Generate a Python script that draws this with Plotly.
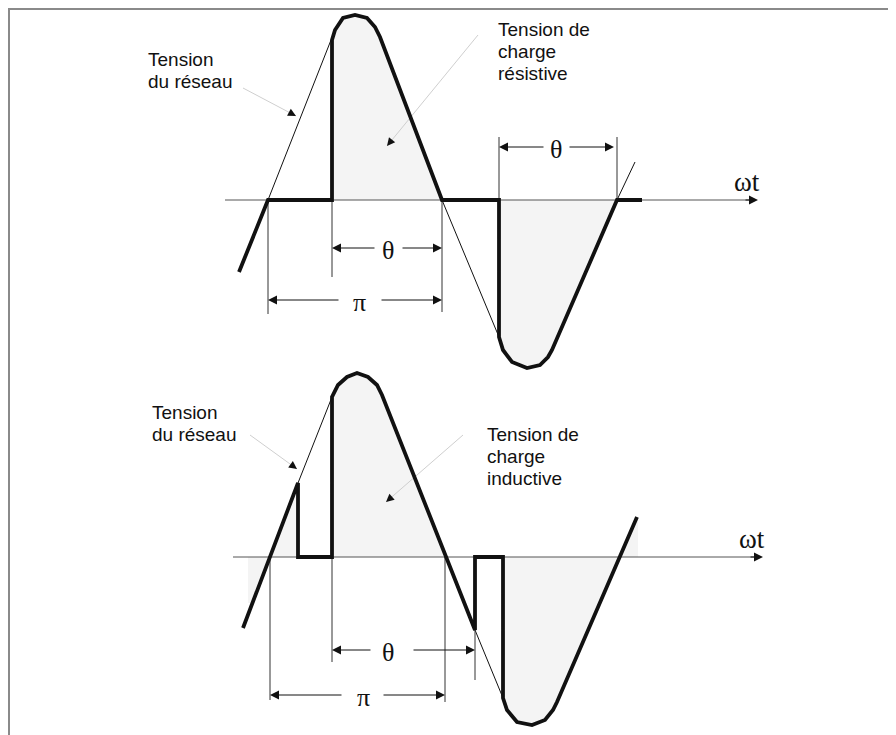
import plotly.graph_objects as go

W, H = 896, 735
# the page body has an 8px margin: shift the ranges so that
# diagram units equal window pixels
OFF = 8
INK = "#111111"
THIN = "#333333"
FILL = "#f4f4f4"
LEADER = "#cfcfcf"
SANS = "Liberation Sans, Arial, Helvetica, sans-serif"
SERIF = "Liberation Serif, Times New Roman, serif"

# ---- top panel : charge résistive (diagram units = pixels) ----
TOP_AXIS = [225, 758, 200]
TOP_LOAD_X = [239, 268, 332, 332, 335, 343, 355, 367, 375, 380, 442,
              499, 499, 503, 512, 527, 540, 548, 552, 617, 642]
TOP_LOAD_Y = [272, 200, 200, 40, 30, 18, 15, 18, 27, 37, 200,
              200, 337, 350, 362, 368, 365, 357, 350, 200, 200]
TOP_LINE_X = [[268, 331], [442, 499], [617, 635]]
TOP_LINE_Y = [[200, 40], [200, 337], [200, 162]]

# ---- bottom panel : charge inductive ----
LOW_AXIS = [233, 763, 557]
LOW_LOAD_X = [243, 298, 298, 332, 332, 338, 347, 357, 368, 377, 382,
              475, 475, 503, 503, 507, 517, 532, 545, 553, 557, 637]
LOW_LOAD_Y = [628, 483, 557, 557, 397, 385, 377, 373, 377, 385, 395,
              630, 557, 557, 698, 710, 722, 725, 720, 710, 702, 517]
LOW_ZERO_X = [268, 445, 620]
LOW_LINE_X = [[298, 332], [475, 503]]
LOW_LINE_Y = [[483, 397], [630, 698]]

# dimension rows: y, left tip, right tip, label x, gap start, gap end, label
DIM_Y = [248, 300, 147, 650, 695]
DIM_X0 = [332, 268, 499, 332, 270]
DIM_X1 = [442, 442, 614, 475, 445]
DIM_LX = [388, 359, 556, 388, 363]
DIM_G0 = [376, 340, 545, 372, 343]
DIM_G1 = [401, 380, 568, 412, 382]
DIM_TXT = ["θ", "π", "θ", "θ", "π"]

# extension lines: x, y0, y1
EXT_X = [268, 332, 442, 499, 617, 270, 332, 445, 475]
EXT_Y0 = [200, 200, 200, 137, 137, 557, 557, 557, 630]
EXT_Y1 = [314, 277, 312, 200, 200, 700, 662, 702, 680]

# labels: text, x, y
LABELS = ["Tension", "du réseau",
          "Tension de", "charge", "résistive",
          "Tension", "du réseau",
          "Tension de", "charge", "inductive"]
LABEL_X = [147, 147, 497, 497, 497, 151, 151, 486, 486, 486]
LABEL_Y = [59, 81, 29, 51, 73, 412, 434, 434, 456, 478]

# leaders: start, arrow tip
LEAD_X0 = [243, 478, 250, 463]
LEAD_Y0 = [88, 35, 435, 435]
LEAD_X1 = [296, 387, 297, 386]
LEAD_Y1 = [116, 146, 469, 502]


def poly(xs, ys):
    return go.Scatter(x=xs, y=ys, mode="lines", fill="toself",
                      fillcolor=FILL, line=dict(width=0),
                      hoverinfo="skip")


fig = go.Figure()

# grey fills
fig.add_trace(poly(TOP_LOAD_X[2:11], TOP_LOAD_Y[2:11]))
fig.add_trace(poly(TOP_LOAD_X[11:20], TOP_LOAD_Y[11:20]))

b0 = LOW_AXIS[2]
fig.add_trace(poly([LOW_ZERO_X[0], LOW_LOAD_X[1], LOW_LOAD_X[2]],
                   [b0, LOW_LOAD_Y[1], LOW_LOAD_Y[2]]))
fig.add_trace(poly([248, LOW_ZERO_X[0], 252, 248], [b0, b0, 603, 603]))
fig.add_trace(poly(LOW_LOAD_X[3:11] + [LOW_ZERO_X[1]],
                   LOW_LOAD_Y[3:11] + [b0]))
fig.add_trace(poly(LOW_LOAD_X[13:21] + [LOW_ZERO_X[2]],
                   LOW_LOAD_Y[13:21] + [b0]))
fig.add_trace(poly([LOW_ZERO_X[2], LOW_LOAD_X[21], LOW_LOAD_X[21] + 1,
                    LOW_LOAD_X[21] + 1],
                   [b0, LOW_LOAD_Y[21], LOW_LOAD_Y[21], b0]))

# axes lines
for ax in (TOP_AXIS, LOW_AXIS):
    fig.add_trace(go.Scatter(x=[ax[0], ax[1] - 8], y=[ax[2], ax[2]],
                             mode="lines", line=dict(color="#555555", width=1),
                             hoverinfo="skip"))

# network voltage (thin)
for xs, ys in zip(TOP_LINE_X + LOW_LINE_X, TOP_LINE_Y + LOW_LINE_Y):
    fig.add_trace(go.Scatter(x=xs, y=ys, mode="lines",
                             line=dict(color=INK, width=1),
                             hoverinfo="skip"))

# extension lines
for x, y0, y1 in zip(EXT_X, EXT_Y0, EXT_Y1):
    fig.add_trace(go.Scatter(x=[x, x], y=[y0, y1], mode="lines",
                             line=dict(color=THIN, width=1),
                             hoverinfo="skip"))

# leader lines
for x0, y0, x1, y1 in zip(LEAD_X0, LEAD_Y0, LEAD_X1, LEAD_Y1):
    fig.add_trace(go.Scatter(x=[x0, x1], y=[y0, y1], mode="lines",
                             line=dict(color=LEADER, width=1),
                             hoverinfo="skip"))

# load voltage (bold)
fig.add_trace(go.Scatter(x=TOP_LOAD_X, y=TOP_LOAD_Y, mode="lines",
                         line=dict(color=INK, width=3.8),
                         hoverinfo="skip"))
fig.add_trace(go.Scatter(x=LOW_LOAD_X, y=LOW_LOAD_Y, mode="lines",
                         line=dict(color=INK, width=3.8),
                         hoverinfo="skip"))

ann = []

# axis arrowheads and ωt
for ax in (TOP_AXIS, LOW_AXIS):
    ann.append(dict(x=ax[1], y=ax[2], ax=ax[1] - 14, ay=ax[2],
                    xref="x", yref="y", axref="x", ayref="y", text="",
                    showarrow=True, arrowhead=2, arrowsize=1.8,
                    arrowwidth=1, arrowcolor=INK, standoff=0))
    ann.append(dict(x=ax[1] - 11, y=ax[2] - 18, xref="x", yref="y",
                    text="ωt", showarrow=False, xanchor="center",
                    yanchor="middle",
                    font=dict(family=SERIF, size=27, color=INK)))

# dimension arrows
for y, x0, x1, lx, g0, g1, t in zip(DIM_Y, DIM_X0, DIM_X1, DIM_LX,
                                    DIM_G0, DIM_G1, DIM_TXT):
    for tip, tail in ((x0, g0), (x1, g1)):
        ann.append(dict(x=tip, y=y, ax=tail, ay=y, xref="x", yref="y",
                        axref="x", ayref="y", text="", showarrow=True,
                        arrowhead=2, arrowsize=1.8, arrowwidth=1,
                        arrowcolor=INK, standoff=0))
    ann.append(dict(x=lx, y=y + 2, xref="x", yref="y", text=t,
                    showarrow=False, xanchor="center", yanchor="middle",
                    font=dict(family=SERIF, size=26, color=INK)))

# leader arrowheads
for x0, y0, x1, y1 in zip(LEAD_X0, LEAD_Y0, LEAD_X1, LEAD_Y1):
    dx, dy = x1 - x0, y1 - y0
    n = (dx * dx + dy * dy) ** 0.5
    ann.append(dict(x=x1, y=y1, ax=-dx / n * 9, ay=-dy / n * 9,
                    xref="x", yref="y", text="", showarrow=True,
                    arrowhead=2, arrowsize=1.6, arrowwidth=1,
                    arrowcolor=INK, standoff=0))

# labels
for t, x, y in zip(LABELS, LABEL_X, LABEL_Y):
    ann.append(dict(x=x, y=y, xref="x", yref="y", text=t,
                    showarrow=False, xanchor="left", yanchor="middle",
                    borderpad=0,
                    font=dict(family=SANS, size=19, color=INK)))

fig.update_layout(
    width=W,
    height=H,
    margin=dict(l=0, r=0, t=0, b=0),
    paper_bgcolor="white",
    plot_bgcolor="white",
    showlegend=False,
    xaxis=dict(range=[OFF, W + OFF], visible=False, fixedrange=True),
    yaxis=dict(range=[H + OFF, OFF], visible=False, fixedrange=True),
    annotations=ann,
    shapes=[dict(type="path", xref="x", yref="y",
                 path=f"M 9 {H + 20} L 9 9 L 894 9 L 894 {H + 20}",
                 line=dict(color="#8a8a8a", width=2))],
)

fig.write_html("out.html")
